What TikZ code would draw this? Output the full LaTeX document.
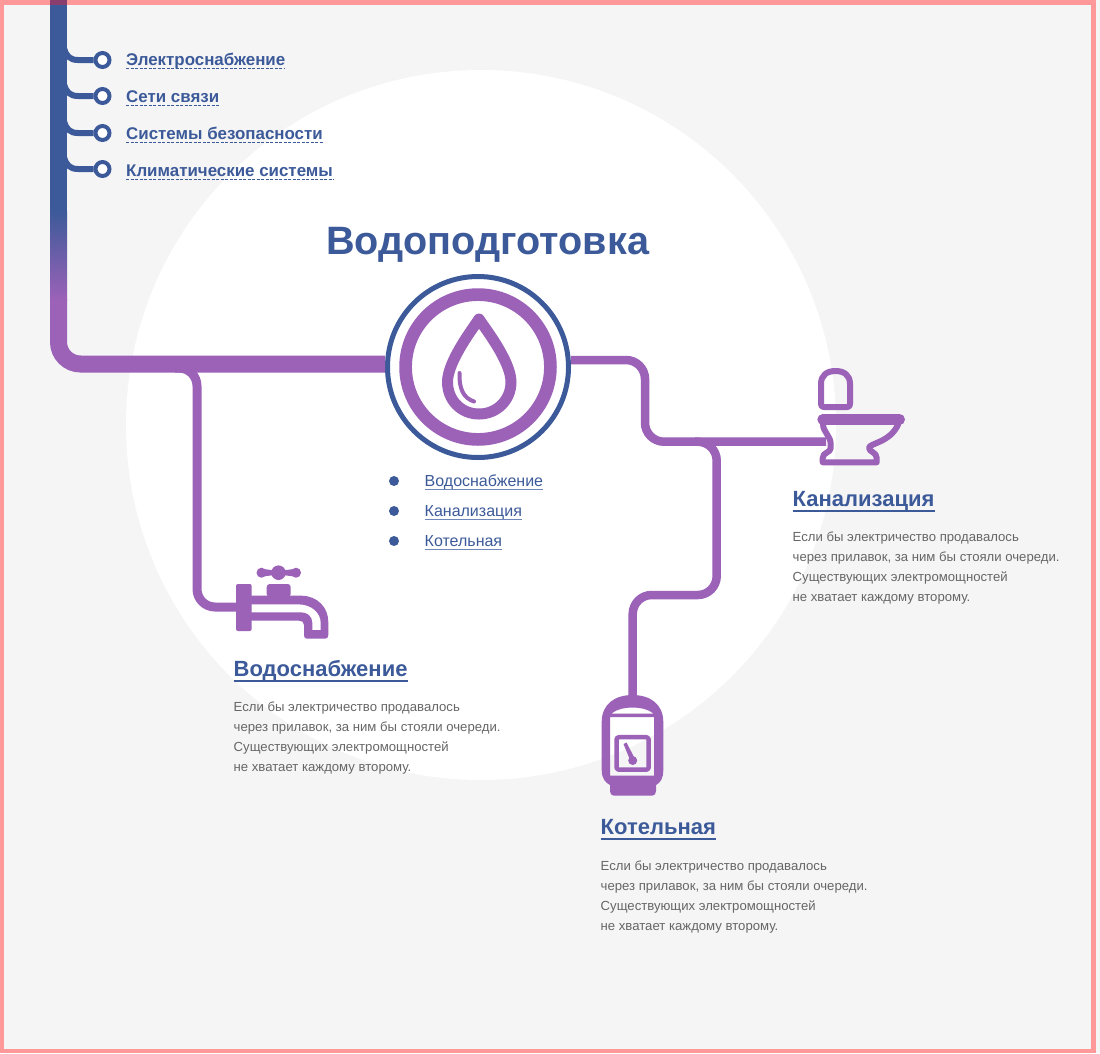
\documentclass[tikz,border=0pt]{standalone}
\usepackage{fontspec}
\setmainfont{Liberation Sans}
\usetikzlibrary{calc}
\definecolor{bluepipe}{HTML}{3C5A99}
\definecolor{purp}{HTML}{9B62B8}
\definecolor{bgpaper}{HTML}{F5F5F5}
\definecolor{pinkedge}{HTML}{FF9999}
\definecolor{desc}{HTML}{666666}
\definecolor{ullight}{HTML}{6F86B8}
\definecolor{overlap}{HTML}{8A3E6E}
\tikzset{
  pipe/.style={draw=purp,line width=8.5pt,rounded corners=19pt,line cap=butt},
  stub/.style={draw=bluepipe,line width=6pt,line cap=butt},
  dotn/.style={circle,draw=bluepipe,line width=4pt,fill=white,minimum size=14pt,inner sep=0pt},
  sidelink/.style={anchor=base west,inner sep=0pt,text=bluepipe,font=\fontsize{16.9}{20}\selectfont\bfseries},
  sublink/.style={anchor=base west,inner sep=0pt,text=bluepipe,font=\fontsize{16}{18}\selectfont},
  heading/.style={anchor=base west,inner sep=0pt,text=bluepipe,font=\fontsize{22}{26}\selectfont\bfseries},
  blurb/.style={anchor=north west,inner sep=0pt,align=left,text=desc,font=\fontsize{13.15}{20}\selectfont},
  icon/.style={draw=purp,line join=round,line cap=round},
  bulletdot/.style={circle,fill=bluepipe,minimum size=10pt,inner sep=0pt},
}
\begin{document}
\begin{tikzpicture}[x=1pt,y=-1pt]
\useasboundingbox (0,0) rectangle (1100,1053);
\fill[bgpaper] (0,0) rectangle (1100,1053);
\fill[white] (481,425) circle[radius=355];
% frame
\fill[pinkedge] (0,0) rectangle (1096,5);
\fill[pinkedge] (0,1049) rectangle (1096,1053);
\fill[pinkedge] (0,0) rectangle (4,1053);
\fill[pinkedge] (1091,0) rectangle (1096,1053);
% side links
\foreach \n/\y/\b/\t in {a/60/65/Электроснабжение,b/96/102/Сети связи,c/133/139/Системы безопасности,d/169/176/Климатические системы}{
  \node[dotn] (dot\n) at (102.5,\y) {};
  \coordinate (st\n) at (64,\y-12);
  \draw[stub] (st\n) .. controls ($(st\n)+(2,8)$) and ($(st\n)+(6,12)$) .. ($(st\n)+(14,12)$) -- (dot\n.west);
  \node[sidelink] (lk\n) at (126,\b) {\t};
  \draw[bluepipe,line width=1.2pt,dash pattern=on 3pt off 1.5pt] ($(lk\n.base west)+(0,3.5)$) -- ($(lk\n.base east)+(0,3.5)$);
}
% main riser
\fill[bluepipe] (50,0) rectangle (67,212);
\fill[overlap] (50,0) rectangle (67,5);
\shade[top color=bluepipe,bottom color=purp] (50,211) rectangle (67,300);
% hub
\node[circle,draw=bluepipe,line width=5pt,fill=white,minimum size=181pt,inner sep=0pt] (hub) at (478,367) {};
\coordinate (riserlow) at (58.5,299);
\coordinate (riserelbow) at (58.5,364);
\path[draw=purp,line width=17pt,rounded corners=22pt] (riserlow) -- (riserelbow) -- (hub.west |- riserelbow);
% title
\node[anchor=base west,inner sep=0pt,text=bluepipe,font=\fontsize{39.6}{46}\selectfont\bfseries] (title) at (326,254) {Водоподготовка};
% purple ring and drop
\draw[purp,line width=12.7pt] (hub.center) circle[radius=72.4];
\draw[icon,line width=11pt] (479,319) .. controls (484,327) and (511,361) .. (511,382)
  .. controls (511,400) and (497,414) .. (479,414)
  .. controls (461,414) and (447.5,400) .. (447.5,382)
  .. controls (447.5,361) and (474,327) .. (479,319) -- cycle;
\draw[icon,line width=4pt] (459.5,373) .. controls (459,388) and (463,398) .. (474,401.5);
% sub list
\foreach \n/\y/\t in {w/481/Водоснабжение,k/511/Канализация,o/541/Котельная}{
  \node[bulletdot] (bl\n) at (394,\y) {};
  \node[sublink] (sl\n) at (424.5,\y+5) {\t};
  \draw[ullight,line width=1.4pt] ($(sl\n.base west)+(0,3.5)$) -- ($(sl\n.base east)+(0,3.5)$);
}
% left branch
\coordinate (lb0) at (175,368);
\coordinate (lb1) at (197,368);
\coordinate (lb2) at (197,607);
\coordinate (faucet) at (238,607);
\draw[pipe,line width=9pt,rounded corners=18pt] (lb0) -- (lb1) -- (lb2) -- (faucet);
% faucet
\fill[purp,rounded corners=2pt] (236,584) rectangle (251.7,631);
\fill[purp,rounded corners=3pt] (266.7,584) -- (290.7,584) -- (290.7,597) -- (266.7,597) -- cycle;
\fill[purp] (261.5,572.7) circle[radius=5] (296,572.7) circle[radius=5] (278.5,572.7) circle[radius=7.3];
\fill[purp] (261.5,569) .. controls (267,569) and (270,570.5) .. (278.5,570.5) .. controls (287,570.5) and (290,569) .. (296,569) -- (296,576.4) .. controls (290,576.4) and (287,575) .. (278.5,575) .. controls (270,575) and (267,576.4) .. (261.5,576.4) -- cycle;
\fill[purp,even odd rule] (250,595.7) -- (301.7,595.7) .. controls (318,596) and (328.3,608) .. (328.3,622) -- (328.3,635) .. controls (328.3,637.5) and (327,638.7) .. (325,638.7) -- (307,638.7) .. controls (305,638.7) and (304,637.5) .. (304,635) -- (304,625) .. controls (304,622) and (302,620.7) .. (299,620.7) -- (250,620.7) -- cycle
 (250,604.3) -- (298,604.3) .. controls (312,604.3) and (320.7,613) .. (320.7,623) -- (320.7,630) -- (312.3,630) -- (312.3,623) .. controls (312.3,616) and (307,612.3) .. (301,612.3) -- (250,612.3) -- cycle;
% right branch
\coordinate (r0) at (hub.east |- 0,360);
\coordinate (r1) at (645,360);
\coordinate (r2) at (645,441.7);
\coordinate (toilet) at (826,441.7);
\draw[pipe] (r0) -- (r1) -- (r2) -- (toilet);
\coordinate (s0) at (695,441.7);
\coordinate (s1) at (716.7,441.7);
\coordinate (s2) at (716.7,595);
\coordinate (s3) at (632.7,595);
\coordinate (boiler) at (632.7,700);
\draw[pipe] (s0) -- (s1) -- (s2) -- (s3) -- (boiler);
% toilet
\draw[icon,line width=6pt] (824,407) -- (847,407) .. controls (849,407) and (850,406) .. (850,404) -- (850,384) .. controls (850,375) and (844,371) .. (835.5,371) .. controls (827,371) and (821,375) .. (821,384) -- (821,404) .. controls (821,406) and (822,407) .. (824,407) -- cycle;
\draw[icon,line width=11pt] (822.8,419.5) -- (899.5,419.5);
\draw[icon,line width=6pt] (823,424) .. controls (823,432) and (830.7,436) .. (830.7,444) -- (830.7,448) .. controls (830.7,453) and (822.7,452) .. (822.7,458) -- (822.7,462.3) -- (876.7,462.3) -- (876.7,458) .. controls (876.7,452) and (869,452) .. (869,448) .. controls (869,443) and (890,443) .. (898.3,424);
% boiler
\fill[purp,even odd rule] (601.7,722) .. controls (601.7,704) and (615,695) .. (632.5,695) .. controls (650,695) and (663.3,704) .. (663.3,722) -- (663.3,770) .. controls (663.3,779) and (660,783) .. (656,785) -- (656,791) .. controls (656,794) and (654.5,795.5) .. (652.5,795.5) -- (613.5,795.5) .. controls (611.5,795.5) and (610,794) .. (610,791) -- (610,785) .. controls (606,783) and (601.7,779) .. (601.7,770) -- cycle
 (611.5,713.5) .. controls (617,709) and (625,707.5) .. (632.5,707.5) .. controls (640,707.5) and (648,709) .. (653.5,713.5) -- cycle
 (610,717) -- (654,717) -- (654,775.5) -- (610,775.5) -- cycle;
\draw[icon,line width=4.5pt,rounded corners=2.5pt] (616.5,737.2) rectangle (648.7,769.7);
\fill[purp] (623.5,744) -- (626.5,742.5) -- (635,759) -- (630.5,761) -- cycle;
\fill[purp] (632.7,760.5) circle[radius=4.5];
% headings
\node[heading] (hw) at (233.5,676) {Водоснабжение};
\node[heading] (hk) at (792.5,506) {Канализация};
\node[heading] (ho) at (600.5,834) {Котельная};
\foreach \h in {hw,hk,ho}{
  \draw[bluepipe,line width=2.4pt] ($(\h.base west)+(0,5)$) -- ($(\h.base east)+(0,5)$);
}
% blurbs
\node[blurb] (bw) at (233.5,702) {Если бы электричество продавалось\\через прилавок, за ним бы стояли очереди.\\Существующих электромощностей\\не хватает каждому второму.};
\node[blurb] (bk) at (792.5,532) {Если бы электричество продавалось\\через прилавок, за ним бы стояли очереди.\\Существующих электромощностей\\не хватает каждому второму.};
\node[blurb] (bo) at (600.5,861) {Если бы электричество продавалось\\через прилавок, за ним бы стояли очереди.\\Существующих электромощностей\\не хватает каждому второму.};
\end{tikzpicture}
\end{document}
